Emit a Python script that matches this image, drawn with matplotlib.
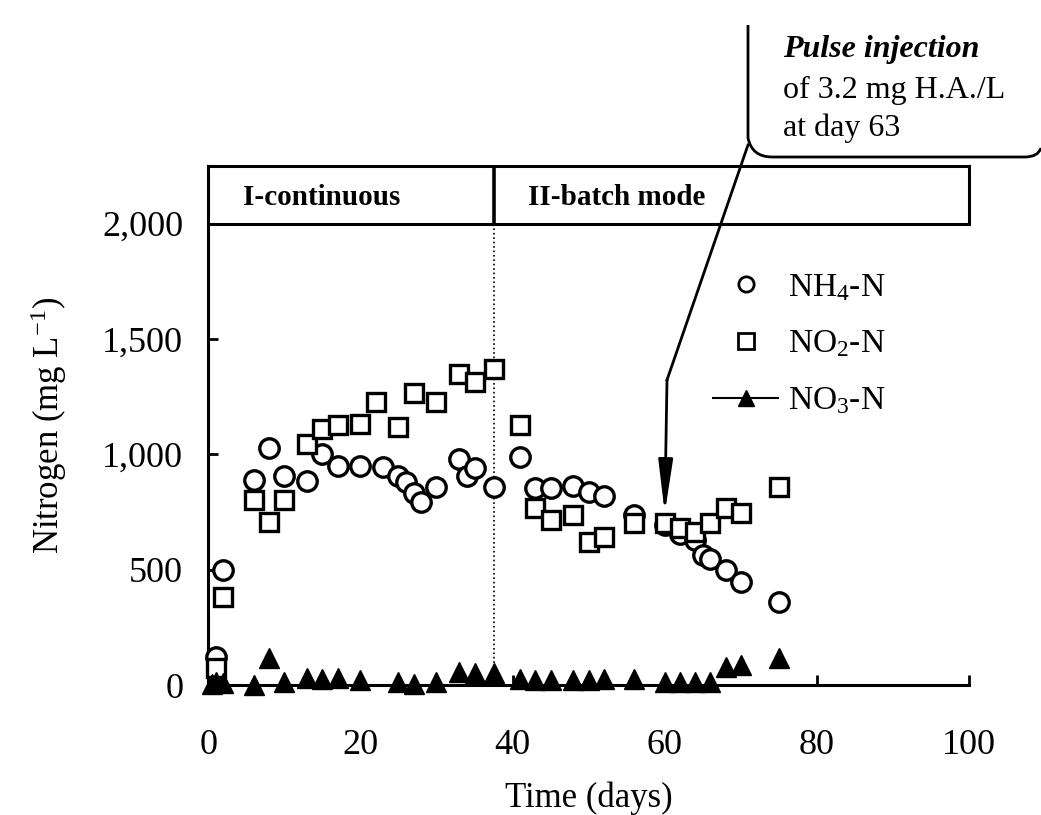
import matplotlib.pyplot as plt
from matplotlib.path import Path
from matplotlib.patches import PathPatch
from matplotlib.lines import Line2D

plt.rcParams['font.family'] = ['Liberation Serif', 'DejaVu Serif']
plt.rcParams['mathtext.fontset'] = 'custom'
plt.rcParams['mathtext.rm'] = 'Liberation Serif'
plt.rcParams['mathtext.it'] = 'Liberation Serif:italic'

# data
nh4_days = [1, 2, 6, 8, 10, 13, 15, 17, 20, 23, 25, 26, 27, 28, 30, 33, 34, 35, 37.5,
            41, 43, 45, 48, 50, 52, 56, 60, 62, 64, 65, 66, 68, 70, 75]
nh4_vals = [120, 498, 887, 1026, 905, 883, 1000, 948, 948, 944, 905, 880, 831, 792, 857,
            978, 905, 939, 857,
            988, 853, 853, 862, 837, 818, 736, 695, 655, 630, 565, 545, 498, 447, 361]

no2_days = [1, 2, 6, 8, 10, 13, 15, 17, 20, 22, 25, 27, 30, 33, 35, 37.5,
            41, 43, 45, 48, 50, 52, 56, 60, 62, 64, 66, 68, 70, 75]
no2_vals = [75, 381, 801, 705, 801, 1043, 1108, 1126, 1130, 1225, 1117, 1264, 1225, 1346,
            1312, 1368,
            1126, 766, 714, 736, 620, 642, 701, 701, 680, 664, 701, 766, 744, 858]

no3_days = [0.5, 1, 2, 6, 8, 10, 13, 15, 17, 20, 25, 27, 30, 33, 35, 37.5,
            41, 43, 45, 48, 50, 52, 56, 60, 62, 64, 66, 68, 70, 75]
no3_vals = [5, 15, 10, 0, 117, 15, 30, 25, 30, 20, 15, 5, 15, 58, 50, 50,
            25, 20, 20, 20, 20, 25, 25, 15, 15, 15, 15, 80, 87, 117]

phase_switch = 37.5
header_level = 2000
pulse_day = 60
pulse_level = 745

W, H = 1041, 815


def fp(x, y):
    return (x / W, 1 - y / H)


fig = plt.figure(figsize=(W / 100, H / 100), dpi=100)
ax = fig.add_axes([0.2, 0.1595, 0.731, 0.637])

ax.plot(nh4_days, nh4_vals, 'o', ms=14, mfc='white', mec='black', mew=2.4,
        clip_on=False, zorder=3)
ax.plot(no2_days, no2_vals, 's', ms=13, mfc='white', mec='black', mew=2.4,
        clip_on=False, zorder=4)
ax.plot(no3_days, no3_vals, '^', ms=14, color='black', clip_on=False, zorder=5)

ax.set_xlim(0, 100)
ax.set_ylim(0, 2250)
ax.set_xticks([0, 20, 40, 60, 80, 100])
ax.set_yticks([0, 500, 1000, 1500, 2000])
ax.set_yticklabels(['0', '500', '1,000', '1,500', '2,000'])
ax.tick_params(direction='in', length=7, width=2, labelsize=26)
ax.tick_params(axis='x', pad=32)
ax.tick_params(axis='y', pad=18)

for s in ['left', 'bottom', 'top']:
    ax.spines[s].set_linewidth(2.2)
ax.spines['right'].set_visible(False)

# header band
ax.plot([0, 100], [header_level, header_level], color='black', lw=2.2)
ax.plot([100, 100], [header_level, 2250], color='black', lw=2.2, clip_on=False)
ax.plot([phase_switch, phase_switch], [header_level, 2250], color='black', lw=2.6)
ax.plot([phase_switch, phase_switch], [0, header_level], color='black', lw=1.2, ls=':')
ax.text(4.6, 2115, 'I-continuous', fontsize=21, fontweight='bold', va='center')
ax.text(42, 2115, 'II-batch mode', fontsize=21, fontweight='bold', va='center')

ax.set_xlabel('Time (days)', fontsize=25, labelpad=14)
ax.set_ylabel('Nitrogen (mg L$^{-1}$)', fontsize=25, labelpad=24)

handles = [
    Line2D([], [], marker='o', ls='none', ms=11, mfc='white', mec='black', mew=2),
    Line2D([], [], marker='s', ls='none', ms=11, mfc='white', mec='black', mew=2),
    Line2D([], [], marker='^', ls='-', lw=1.5, ms=12, color='black'),
]
labels = ['NH$_4$-N', 'NO$_2$-N', 'NO$_3$-N']
ax.legend(handles, labels, loc='upper left', bbox_to_anchor=fp(713, 272),
          bbox_transform=fig.transFigure, frameon=False, fontsize=24,
          handlelength=1.95, handletextpad=0.3, labelspacing=0.78,
          borderpad=0, borderaxespad=0)

# callout
verts = [fp(748, 25), fp(748, 138), fp(752, 157), fp(772, 157), fp(1025, 157),
         fp(1038, 157), fp(1041, 148)]
codes = [Path.MOVETO, Path.LINETO, Path.CURVE3, Path.CURVE3, Path.LINETO,
         Path.CURVE3, Path.CURVE3]
fig.add_artist(PathPatch(Path(verts, codes), transform=fig.transFigure,
                         fill=False, lw=2, color='black'))
fig.add_artist(Line2D([fp(748, 145)[0], fp(667, 380)[0]],
                      [fp(748, 145)[1], fp(667, 380)[1]],
                      transform=fig.transFigure, color='black', lw=2))
ax.annotate('', xy=(pulse_day, pulse_level), xycoords='data',
            xytext=fp(667, 380), textcoords='figure fraction',
            arrowprops=dict(arrowstyle='-|>,head_length=1.6,head_width=0.22',
                            color='black', lw=2, shrinkA=0, shrinkB=0,
                            mutation_scale=20))
fig.text(*fp(783, 50), 'Pulse injection', fontsize=23, fontweight='bold',
         fontstyle='italic', va='center')
fig.text(*fp(783, 90), 'of 3.2 mg H.A./L', fontsize=23, va='center')
fig.text(*fp(783, 128), 'at day 63', fontsize=23, va='center')

fig.savefig('out.png', dpi=100, facecolor='white')
